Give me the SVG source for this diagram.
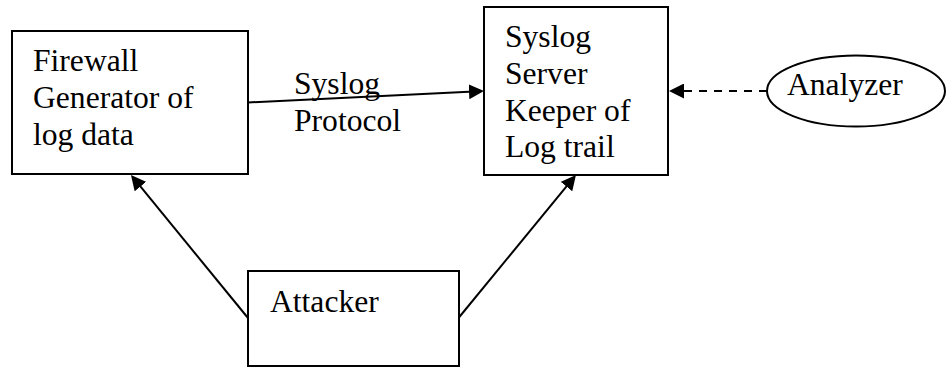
<svg xmlns="http://www.w3.org/2000/svg" width="946" height="367" viewBox="0 0 946 367">
  <style>
    .box { fill: #ffffff; stroke: #000000; stroke-width: 2; }
    .label { font-family: "Liberation Serif", "Times New Roman", serif; font-size: 31.6px; fill: #000000; }
    .link { fill: none; stroke: #000000; stroke-width: 2; }
    .dashed { stroke-dasharray: 8 7; }
  </style>
  <defs>
    <marker id="arrowhead" markerUnits="userSpaceOnUse" markerWidth="15" markerHeight="15" refX="5" refY="7.5" orient="auto">
      <path d="M0,0 L15,7.5 L0,15 Z" fill="#000000"/>
    </marker>
  </defs>

  <rect width="946" height="367" fill="#ffffff"/>

  <!-- connectors -->
  <g id="connectors">
    <path class="link" d="M248,102.5 L474,91.5" marker-end="url(#arrowhead)"/>
    <path class="link dashed" d="M767,91 L679,91" marker-end="url(#arrowhead)"/>
    <path class="link" d="M248,318 L137.3,182.7" marker-end="url(#arrowhead)"/>
    <path class="link" d="M458.5,318 L569.6,182.7" marker-end="url(#arrowhead)"/>
  </g>

  <!-- edge label -->
  <g id="syslog-protocol-label">
    <text class="label" x="294" y="94">Syslog</text>
    <text class="label" x="294" y="131">Protocol</text>
  </g>

  <!-- nodes -->
  <g id="firewall">
    <rect class="box" x="12" y="31" width="236" height="143"/>
    <text class="label" x="33" y="71">Firewall</text>
    <text class="label" x="33" y="108">Generator of</text>
    <text class="label" x="33" y="145">log data</text>
  </g>

  <g id="syslog-server">
    <rect class="box" x="484" y="7" width="184" height="168"/>
    <text class="label" x="505" y="47">Syslog</text>
    <text class="label" x="505" y="84">Server</text>
    <text class="label" x="505" y="121">Keeper of</text>
    <text class="label" x="505" y="157">Log trail</text>
  </g>

  <g id="analyzer">
    <ellipse class="box" cx="856" cy="91" rx="89" ry="35.5"/>
    <text class="label" x="787" y="95">Analyzer</text>
  </g>

  <g id="attacker">
    <rect class="box" x="248" y="271" width="211" height="95"/>
    <text class="label" x="270" y="312">Attacker</text>
  </g>
</svg>
